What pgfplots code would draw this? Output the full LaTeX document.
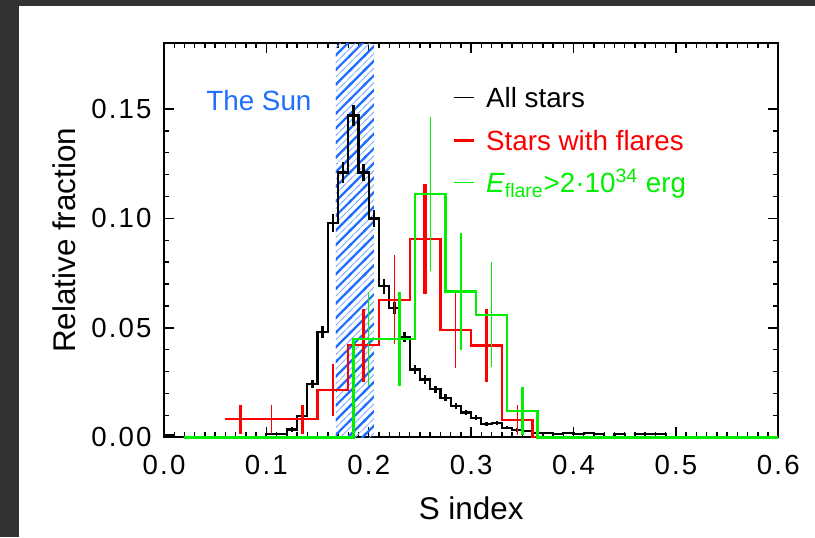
\documentclass[border=0pt]{standalone}
\usepackage{fontspec}
\setmainfont{Liberation Sans}
\newfontfamily\tickfont[LetterSpace=8]{Liberation Sans}
\usepackage{pgfplots}
\pgfplotsset{compat=1.18}
\usetikzlibrary{patterns.meta}
\definecolor{sunblue}{RGB}{30,110,255}
\definecolor{bggray}{RGB}{50,50,50}
\definecolor{lgreen}{RGB}{0,240,0}
\definecolor{lred}{RGB}{255,0,0}

\tikzdeclarepattern{
  name=sunhatch,
  type=colored,
  bottom left={(-1pt,-1pt)},
  top right={(8.3pt,8.3pt)},
  tile size={(7.3pt,7.3pt)},
  code={
    \draw[sunblue, line width=1.1pt] (-1pt,-1pt) -- (8.3pt,8.3pt);
    \draw[sunblue!55, line width=0.35pt] (-1pt,2.65pt) -- (4.65pt,8.3pt);
    \draw[sunblue!55, line width=0.35pt] (2.65pt,-1pt) -- (8.3pt,4.65pt);
  }
}

\begin{document}
\begin{tikzpicture}
\fill[bggray] (0,0) rectangle (407.5pt,268.5pt);
\fill[white] (9.5pt,0) rectangle (407.5pt,265.5pt);
\begin{axis}[
  at={(82pt,49.85pt)}, anchor=south west,
  scale only axis, width=307.15pt, height=197pt,
  xmin=0, xmax=0.6, ymin=0, ymax=0.18,
  clip=false,
  axis line style={line width=0.9pt},
  xtick={0,0.1,0.2,0.3,0.4,0.5,0.6},
  xticklabels={0.0,0.1,0.2,0.3,0.4,0.5,0.6},
  ytick={0,0.05,0.10,0.15},
  yticklabels={0.00,0.05,0.10,0.15},
  minor x tick num=9, minor y tick num=4,
  tick align=inside,
  major tick length=5pt, minor tick length=2.5pt,
  tick style={line width=0.7pt, black},
  xticklabel style={font=\tickfont\fontsize{13.8}{16}\selectfont, inner sep=0pt, anchor=north, yshift=-8.8pt},
  yticklabel style={font=\tickfont\fontsize{13.8}{16}\selectfont, inner sep=0pt, anchor=east, xshift=-6pt},
  xlabel={S index}, ylabel={Relative fraction},
  label style={font=\fontsize{15.7}{18}\selectfont},
  xlabel style={at={(axis description cs:0.5,-0.18)}, anchor=center},
  ylabel style={at={(axis description cs:-0.163,0.5)}, anchor=center},
  legend style={at={(0.4683,0.8883)}, anchor=north west, draw=none, fill=none,
    inner sep=0pt, row sep=11.25pt, column sep=5.5pt,
    nodes={inner sep=0pt, text height=10pt, text depth=0pt, font=\fontsize{13.9}{16}\selectfont}},
  legend cell align=left,
  legend image code/.code={\draw[#1] (0pt,0pt) -- (10pt,0pt);},
  errb/.style={only marks, mark=text, text mark={}, forget plot,
    error bars/.cd, y dir=both, y explicit, error mark=none,
    error bar style={#1}},
]
% Sun range (hatched)
\addplot[draw=none, pattern=sunhatch, forget plot] coordinates {(0.168,0.18) (0.205,0.18)} \closedcycle;

% All stars
\addplot[const plot, black, line width=1.1pt, forget plot] coordinates {
(0,0.0008) (0.01,0) (0.10,0.0014) (0.11,0.0014) (0.12,0.0036) (0.13,0.0097)
(0.14,0.0245) (0.15,0.048) (0.16,0.098) (0.17,0.121) (0.18,0.147) (0.19,0.121)
(0.20,0.100) (0.21,0.069) (0.22,0.059) (0.23,0.046) (0.24,0.031) (0.25,0.0264)
(0.26,0.0219) (0.27,0.0181) (0.28,0.0143) (0.29,0.0113) (0.30,0.009) (0.31,0.006)
(0.32,0.0064) (0.33,0.0044) (0.34,0.0033) (0.35,0.003) (0.36,0.0018) (0.37,0.0018)
(0.38,0.0015) (0.39,0.0018) (0.40,0.0015) (0.41,0.0021) (0.42,0.0015) (0.43,0)
(0.44,0.0015) (0.45,0) (0.46,0.0015) (0.47,0.0015) (0.48,0.0015) (0.49,0) (0.60,0)
};
\addplot[errb={black, line width=1.2pt}] coordinates {
(0.125,0.0036) +- (0,0.001)
(0.135,0.0097) +- (0,0.0015)
(0.145,0.0245) +- (0,0.0019)
(0.155,0.048) +- (0,0.0028)
(0.165,0.098) +- (0,0.0042)
(0.175,0.121) +- (0,0.0049)
(0.185,0.147) +- (0,0.0049)
(0.195,0.121) +- (0,0.004)
(0.205,0.100) +- (0,0.0038)
(0.215,0.069) +- (0,0.0034)
(0.225,0.059) +- (0,0.0027)
(0.235,0.046) +- (0,0.0023)
(0.245,0.031) +- (0,0.0019)
(0.255,0.0264) +- (0,0.0019)
(0.265,0.0219) +- (0,0.0015)
(0.275,0.0181) +- (0,0.0015)
(0.285,0.0143) +- (0,0.0013)
(0.295,0.0113) +- (0,0.0012)
(0.305,0.009) +- (0,0.001)
(0.315,0.006) +- (0,0.001)
(0.325,0.0064) +- (0,0.001)
(0.335,0.0044) +- (0,0.0008)
(0.345,0.0033) +- (0,0.0008)
};

% Stars with flares
\addplot[const plot, lred, line width=1.1pt, forget plot] coordinates {
(0.06,0.0082) (0.09,0.0082) (0.12,0.0082) (0.15,0.0216) (0.18,0.042) (0.21,0.0629)
(0.24,0.0906) (0.27,0.0492) (0.30,0.0419) (0.33,0.0079) (0.36,0) (0.60,0)
};
\addplot[errb={lred, line width=1.6pt}] coordinates {
(0.075,0.0082) +- (0,0.0065)
(0.135,0.0082) +- (0,0.0065)
(0.195,0.042) +- (0,0.0167)
(0.255,0.0906) +- (0,0.025)
(0.315,0.0419) +- (0,0.0167)
};
\addplot[errb={lred, line width=0.6pt}] coordinates {
(0.105,0.0082) +- (0,0.0065)
(0.165,0.0216) +- (0,0.0118)
(0.225,0.0629) +- (0,0.0203)
(0.285,0.0492) +- (0,0.0175)
(0.345,0.0079) +- (0,0.0068)
};

% E_flare > 2e34 erg
\addplot[const plot, lgreen, line width=1.2pt, forget plot] coordinates {
(0.02,0) (0.185,0.045) (0.215,0.045) (0.245,0.1112) (0.275,0.0667) (0.305,0.056)
(0.335,0.012) (0.365,0) (0.60,0)
};
\addplot[errb={lgreen, line width=0.6pt}] coordinates {
(0.20,0.045) +- (0,0.0216)
(0.26,0.1112) +- (0,0.035)
(0.32,0.056) +- (0,0.024)
};
\addplot[errb={lgreen, line width=1.4pt}] coordinates {
(0.23,0.045) +- (0,0.0216)
(0.29,0.0667) +- (0,0.0267)
(0.35,0.012) +- (0,0.011)
};

\addlegendimage{black, line width=0.5pt}
\addlegendimage{lred, line width=1.5pt}
\addlegendimage{lgreen, line width=0.6pt}
\legend{All stars, \textcolor{lred}{Stars with flares}, \textcolor{lgreen}{\textit{E}\textsubscript{flare}>2·10\textsuperscript{34} erg}}

\node[anchor=west, inner sep=0pt, text=sunblue, font=\fontsize{13.9}{16}\selectfont] at (axis cs:0.041,0.154) {The Sun};
\end{axis}
\pgfresetboundingbox
\useasboundingbox (0,0) rectangle (407.5pt,268.5pt);
\end{tikzpicture}
\end{document}
